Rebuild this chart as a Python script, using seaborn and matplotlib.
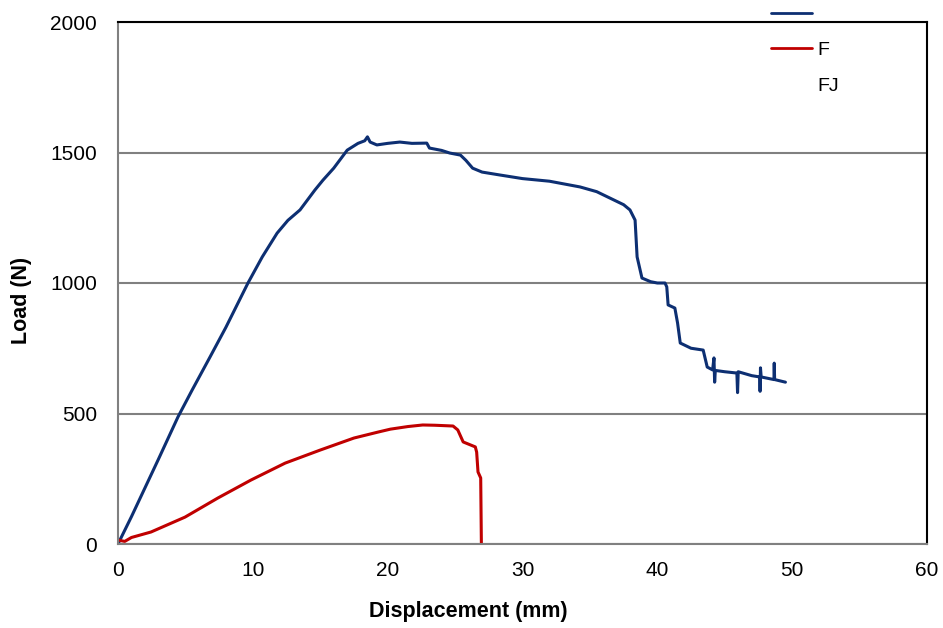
import numpy as np
import pandas as pd
import matplotlib
matplotlib.use('Agg')
import matplotlib.pyplot as plt
import seaborn as sns
from matplotlib.lines import Line2D

# values
blue_x = [0, 1, 2, 3, 4.45, 5.5, 6.82, 8, 9.64, 10.7, 11.8, 12.6, 13.5, 14.6, 15.2, 16.0,
          17.0, 17.8, 18.3, 18.5, 18.7, 19.2, 20.0, 20.9, 21.8, 22.9, 23.1, 24.0, 24.6, 25.4,
          25.8, 26.3, 27.0, 28.3, 30, 32, 34.27, 35.5, 36.5, 37.5, 37.97, 38.35, 38.5, 38.86,
          39.5, 40.0, 40.57, 40.7, 40.8, 41.3, 41.5, 41.7, 42.5, 43.4, 43.7, 44.1, 44.2, 44.25,
          44.3, 45.0, 45.9, 45.95, 46.0, 47.0, 47.6, 47.62, 47.65, 47.7, 48.65, 48.67, 48.7, 49.5]
blue_y = [0, 105, 215, 325, 487, 590, 716, 830, 1000, 1100, 1191, 1240, 1280, 1356, 1394, 1440,
          1509, 1535, 1545, 1560, 1540, 1529, 1535, 1540, 1535, 1536, 1517, 1508, 1498, 1490,
          1470, 1440, 1425, 1414, 1400, 1390, 1368, 1350, 1325, 1300, 1280, 1241, 1100, 1019,
          1005, 1000, 1000, 985, 916, 904, 847, 770, 750, 743, 678, 667, 713, 620,
          665, 660, 655, 580, 660, 645, 640, 585, 675, 640, 630, 693, 630, 620]

red_x = [0, 0.5, 1, 2.45, 4.97, 7.4, 9.86, 12.4, 15.0, 17.5, 19.3, 20.2, 21.5, 22.6, 23.5,
         24.85, 25.2, 25.6, 26.5, 26.6, 26.7, 26.9, 26.95]
red_y = [15, 10, 25, 46, 103, 176, 245, 310, 360, 406, 429, 440, 450, 456, 455,
         452, 437, 391, 372, 352, 276, 253, 0]

labels = [' ', 'F', 'FJ']

blue_c = '#0d2f72'
red_c = '#c00000'

df_b = pd.DataFrame({'x': blue_x, 'y': blue_y})
df_r = pd.DataFrame({'x': red_x, 'y': red_y})

sns.set_style('white')
plt.rcParams['font.family'] = ['Liberation Sans', 'DejaVu Sans']
plt.rcParams['text.color'] = 'black'
plt.rcParams['xtick.color'] = 'black'
plt.rcParams['ytick.color'] = 'black'
plt.rcParams['axes.labelcolor'] = 'black'

fig = plt.figure(figsize=(9.43, 6.28), dpi=100)
ax = fig.add_axes([118/943, 1 - 544/628, (927-118)/943, (544-22)/628])

sns.lineplot(data=df_b, x='x', y='y', ax=ax, color=blue_c, lw=2.2, sort=False, estimator=None)
sns.lineplot(data=df_r, x='x', y='y', ax=ax, color=red_c, lw=2.2, sort=False, estimator=None)

ax.set_xlim(0, 60)
ax.set_ylim(0, 2000)
ax.set_xticks(range(0, 61, 10))
ax.set_yticks(range(0, 2001, 500))
ax.tick_params(length=0, labelsize=15)
ax.tick_params(axis='y', pad=15)
ax.tick_params(axis='x', pad=12)
ax.yaxis.grid(True, color='#808080', lw=1.5)
ax.set_axisbelow(True)

for s in ['left', 'bottom']:
    ax.spines[s].set_color('#808080')
    ax.spines[s].set_linewidth(1.5)
for s in ['top', 'right']:
    ax.spines[s].set_color('black')
    ax.spines[s].set_linewidth(1.5)

ax.set_xlabel('Displacement (mm)', fontsize=15.5, fontweight='bold', va='center')
ax.set_ylabel('Load (N)', fontsize=15.5, fontweight='bold', va='center')
ax.xaxis.set_label_coords(350/809, -68/522)
ax.yaxis.set_label_coords(-96/809, 244/522)

handles = [Line2D([], [], color=blue_c, lw=2),
           Line2D([], [], color=red_c, lw=2),
           Line2D([], [], color='none')]
leg = fig.legend(handles, labels, loc='upper left', bbox_to_anchor=(771/943, 1 - 6/628),
                 frameon=False, fontsize=14, handlelength=2.1, handletextpad=0.3,
                 labelspacing=0.92, borderpad=0, borderaxespad=0)

fig.savefig('out.png', dpi=100)
